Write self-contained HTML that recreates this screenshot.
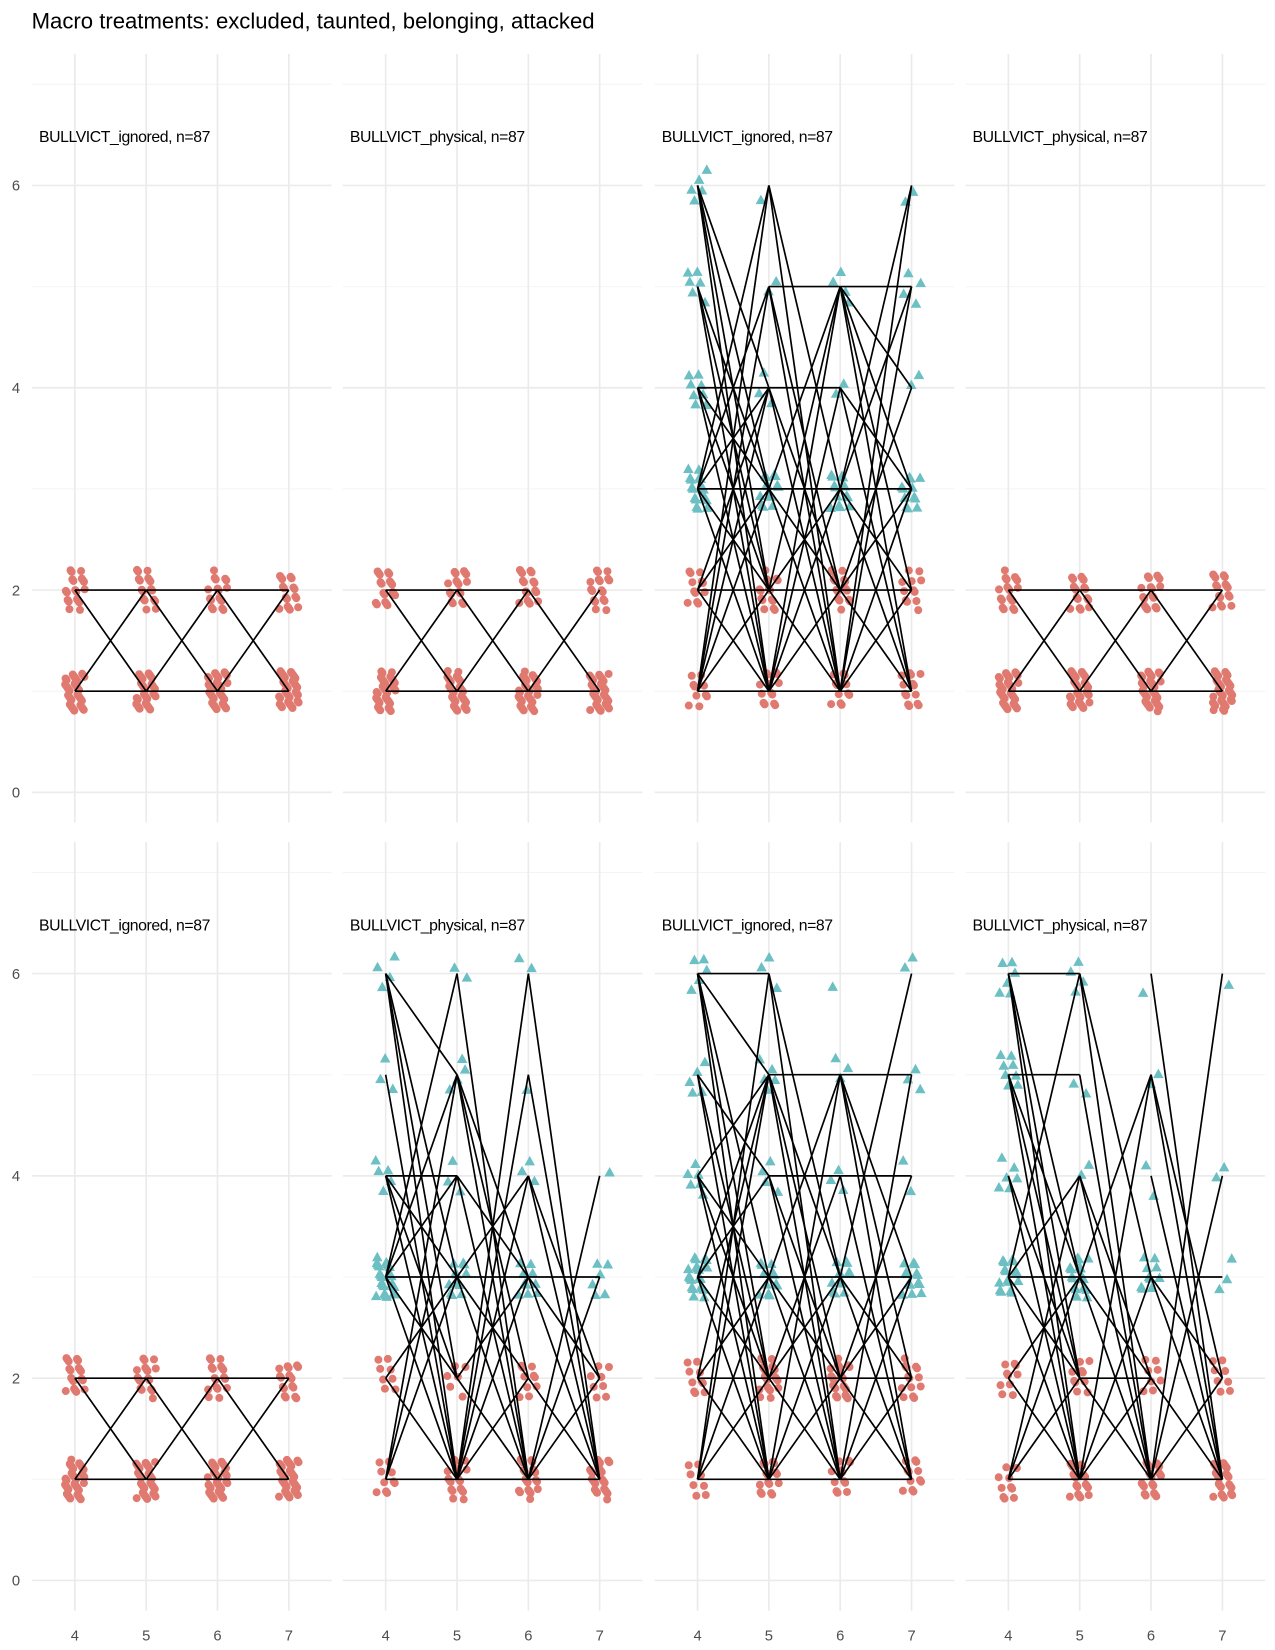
<!DOCTYPE html>
<html><head><meta charset="utf-8"><style>body{margin:0;background:#fff}svg{display:block}</style></head>
<body>
<svg id="chart" width="1275" height="1650" viewBox="0 0 1210 1566" xmlns="http://www.w3.org/2000/svg" font-family="Liberation Sans, sans-serif">
<text x="30" y="27" font-size="21" fill="#000">Macro treatments: excluded, taunted, belonging, attacked</text>
</svg>
<script>
const xCategories = [4,5,6,7];
const yTicks = [0,2,4,6];
const stripLabels = ["BULLVICT_ignored, n=87","BULLVICT_physical, n=87","BULLVICT_ignored, n=87","BULLVICT_physical, n=87"];
// counts per x (4..7) for y values 1..6
const countsSimple = [[38,20,0,0,0,0],[35,18,0,0,0,0],[38,18,0,0,0,0],[40,18,0,0,0,0]];
const countsDenseTop = [[10,12,18,8,6,5],[14,16,14,3,2,1],[12,16,14,2,4,0],[14,12,12,2,4,2]];
const countsDenseB2 = [[10,8,26,5,3,4],[20,6,12,3,4,2],[22,10,10,3,1,2],[26,8,6,1,0,0]];
const countsDenseB3 = [[8,10,22,6,5,5],[16,22,12,4,5,3],[12,24,12,3,3,1],[12,14,14,2,3,2]];
const countsDenseB4 = [[10,10,16,6,8,6],[20,10,18,2,2,4],[22,8,10,2,2,1],[26,8,3,2,0,1]];
const segsSimpleA = ["4:2-5:1","4:1-5:2","4:2-5:2","4:1-5:1","5:1-6:2","5:2-6:1","5:2-6:2","5:1-6:1","6:2-7:1","6:1-7:2","6:2-7:2","6:1-7:1"];
const segsSimpleB = ["4:2-5:1","4:1-5:2","4:2-5:2","4:1-5:1","5:1-6:2","5:2-6:1","5:2-6:2","5:1-6:1","6:2-7:1","6:1-7:2","6:1-7:1"];
function pairs(x1,x2,list){return list.map(p=>x1+":"+p[0]+"-"+x2+":"+p[1]);}
const segsTop3 = [].concat(
 pairs(4,5,[[6,1],[6,2],[6,3],[6,4],[5,1],[5,2],[5,3],[4,1],[4,2],[4,3],[4,4],[3,1],[3,2],[3,3],[3,4],[3,5],[3,6],[2,1],[2,2],[2,3],[2,4],[1,1],[1,2],[1,3],[1,4],[1,5],[1,6]]),
 pairs(5,6,[[6,1],[6,3],[5,1],[5,2],[5,5],[4,4],[4,1],[4,2],[3,1],[3,2],[3,3],[3,5],[2,1],[2,2],[2,3],[2,5],[1,1],[1,2],[1,3],[1,4],[1,5]]),
 pairs(6,7,[[5,1],[5,2],[5,3],[5,4],[5,5],[4,1],[4,3],[3,1],[3,2],[3,3],[3,5],[3,6],[2,1],[2,2],[2,3],[2,4],[1,1],[1,2],[1,3],[1,5],[1,6]]));
const segsB2 = [].concat(
 pairs(4,5,[[6,1],[6,2],[6,3],[6,5],[5,1],[4,1],[4,2],[4,3],[4,4],[3,1],[3,2],[3,3],[3,4],[3,5],[3,6],[2,1],[2,3],[1,1],[1,3],[1,4],[1,5]]),
 pairs(5,6,[[6,1],[5,1],[5,2],[5,3],[4,1],[4,3],[3,1],[3,2],[3,3],[3,4],[2,1],[2,3],[1,1],[1,2],[1,3],[1,4],[1,5],[1,6]]),
 pairs(6,7,[[6,1],[5,1],[4,1],[4,2],[3,1],[3,2],[3,3],[2,1],[1,1],[1,2],[1,3],[1,4]]));
const segsB3 = [].concat(
 pairs(4,5,[[6,6],[6,1],[6,2],[6,3],[6,5],[5,1],[5,2],[5,4],[4,1],[4,2],[4,3],[4,5],[3,1],[3,2],[3,3],[3,4],[3,5],[2,1],[2,2],[2,3],[2,5],[1,1],[1,2],[1,3],[1,5],[1,6]]),
 pairs(5,6,[[6,1],[6,3],[5,1],[5,2],[5,3],[5,5],[4,1],[4,2],[4,4],[3,1],[3,2],[3,3],[3,5],[2,1],[2,2],[2,3],[2,4],[1,1],[1,2],[1,3],[1,5]]),
 pairs(6,7,[[5,1],[5,2],[5,3],[5,5],[4,1],[4,4],[3,1],[3,2],[3,3],[3,6],[2,1],[2,2],[2,3],[2,4],[1,1],[1,2],[1,3],[1,5]]));
const segsB4 = [].concat(
 pairs(4,5,[[6,6],[6,1],[6,2],[6,3],[5,5],[5,1],[5,2],[5,3],[4,1],[4,2],[3,1],[3,2],[3,3],[3,4],[3,6],[2,1],[2,3],[1,1],[1,2],[1,3],[1,4]]),
 pairs(5,6,[[6,1],[6,3],[5,1],[4,1],[4,2],[3,1],[3,2],[3,3],[3,5],[2,1],[2,2],[1,1],[1,2],[1,3],[1,5]]),
 pairs(6,7,[[6,1],[5,1],[5,2],[4,1],[3,1],[3,2],[3,3],[2,1],[1,1],[1,2],[1,4],[1,6]]));
const panelCounts = [countsSimple,countsSimple,countsDenseTop,countsSimple,countsSimple,countsDenseB2,countsDenseB3,countsDenseB4];
const panelSegs = [segsSimpleA,segsSimpleB,segsTop3,segsSimpleA,segsSimpleA,segsB2,segsB3,segsB4];

const NS="http://www.w3.org/2000/svg";
const svg=document.getElementById('chart');
const X4=[71,366,662,957], UX=67.7, UY=96, Y0=[752,1500];
function mk(t,a,parent){const e=document.createElementNS(NS,t);for(const k in a)e.setAttribute(k,a[k]);(parent||svg).appendChild(e);return e;}
for(let r=0;r<2;r++)for(let c=0;c<4;c++){
 const idx=r*4+c;
 const g=mk('g',{});
 
 
 const sx=v=>X4[c]+(v-4)*UX, sy=v=>Y0[r]-v*UY;
 const left=sx(3.4), right=sx(7.6), top=sy(7.3), bot=sy(-0.3);
 for(let v=1;v<=7;v+=2){const l=mk('line',{x1:left,x2:right,y1:sy(v),y2:sy(v),stroke:'#f4f4f4','stroke-width':1},g);}
 yTicks.forEach(v=>{const l=mk('line',{x1:left,x2:right,y1:sy(v),y2:sy(v),stroke:'#ebebeb','stroke-width':1.6},g);});
 xCategories.forEach(v=>{const l=mk('line',{x1:sx(v),x2:sx(v),y1:top,y2:bot,stroke:'#ebebeb','stroke-width':1.6},g);});
 const st=mk('text',{x:X4[c]-34,y:sy(7)+55,'font-size':15,fill:'#000','letter-spacing':'-0.4'},g);st.textContent=stripLabels[c];
 
 const cnt=panelCounts[idx];let k=idx*37;
 cnt.forEach((col,xi)=>{col.forEach((n,yi)=>{for(let i=0;i<n;i++){k++;
   const jx=((k*0.6180339)%1-0.5)*0.28, jy=((k*0.7548776)%1-0.5)*0.4;
   const cx=sx(xCategories[xi]+jx), cy=sy(yi+1+jy);
   let p;
   if(yi+1<=2){p=mk('circle',{cx:cx,cy:cy,r:3.8,fill:'#e0796f'},g);}
   else{p=mk('polygon',{points:`${cx},${cy-5} ${cx-5},${cy+4} ${cx+5},${cy+4}`,fill:'#6cbfc3'},g);}
   
 }});});
 panelSegs[idx].forEach(s=>{const m=s.match(/(\d):(\d)-(\d):(\d)/);
   const l=mk('line',{x1:sx(+m[1]),y1:sy(+m[2]),x2:sx(+m[3]),y2:sy(+m[4]),stroke:'#000','stroke-width':1.6},g);
   });
 if(c===0)yTicks.forEach(v=>{const t=mk('text',{x:19,y:sy(v)+5,'font-size':14,fill:'#4d4d4d','text-anchor':'end'},g);t.textContent=v;});
 if(r===1)xCategories.forEach(v=>{const t=mk('text',{x:sx(v),y:1557,'font-size':14,fill:'#4d4d4d','text-anchor':'middle'},g);t.textContent=v;});
}
</script>
</body></html>
